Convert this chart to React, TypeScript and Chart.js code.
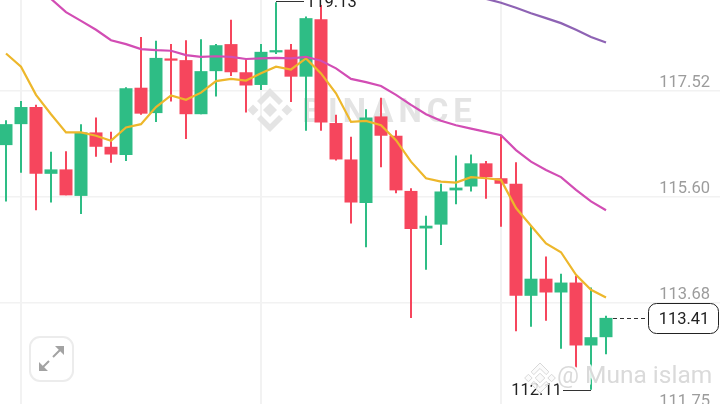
import React, { useEffect, useRef } from "react";
import { Chart, registerables } from "chart.js";

Chart.register(...registerables);

const opens = [116.54,116.92,117.23,116.02,116.10,115.62,116.77,116.51,116.36,117.58,117.12,118.11,118.08,117.10,117.88,118.37,117.86,117.63,118.22,118.27,117.78,118.82,116.94,116.28,115.49,117.06,116.71,115.71,115.03,115.10,115.72,115.79,116.21,115.94,115.84,113.81,114.12,113.87,114.05,112.91,113.06];
const highs = [116.99,117.34,117.27,116.42,116.43,116.92,117.04,116.78,117.59,118.50,118.43,118.37,118.44,118.46,118.37,118.81,118.10,118.37,119.13,118.37,118.87,119.08,117.09,116.69,117.19,117.40,116.81,115.76,115.26,115.84,116.35,116.37,116.25,116.72,116.23,115.09,114.52,114.21,114.17,113.96,113.45];
const lows = [115.52,116.04,115.36,115.50,115.63,115.29,116.33,116.22,116.25,117.09,116.96,117.33,116.65,117.10,117.42,117.79,117.13,117.54,118.19,117.32,116.80,116.80,116.26,115.12,114.69,116.14,115.67,113.41,114.28,114.73,115.47,115.70,115.57,115.06,113.17,113.25,113.36,112.85,112.51,112.11,112.75];
const closes = [116.92,117.23,116.02,116.10,115.63,116.77,116.51,116.37,117.57,117.11,118.12,118.07,117.10,117.88,118.35,117.86,117.62,118.23,118.26,117.78,118.84,116.95,116.28,115.50,117.04,116.71,115.72,115.02,115.08,115.70,115.77,116.21,115.96,115.84,113.81,114.12,113.87,114.05,112.91,113.06,113.41];
const maYellow = [118.20,117.96,117.45,117.10,116.77,116.77,116.71,116.62,116.86,116.92,117.23,117.44,117.36,117.49,117.70,117.74,117.71,117.84,117.96,117.91,118.11,117.84,117.48,116.96,116.98,116.90,116.63,116.24,115.94,115.88,115.86,115.96,115.94,115.91,115.40,115.08,114.76,114.60,114.19,113.92,113.78];
const maPink = [null,null,119.50,119.19,118.95,118.79,118.63,118.44,118.37,118.28,118.26,118.25,118.17,118.14,118.15,118.14,118.10,118.11,118.12,118.11,118.14,118.07,117.93,117.74,117.68,117.61,117.45,117.27,117.10,116.98,116.90,116.84,116.78,116.72,116.45,116.24,116.09,115.96,115.73,115.52,115.36];
const maPurple = [null,null,null,null,null,null,null,null,null,null,null,null,null,null,null,null,null,null,null,null,null,null,null,null,null,null,null,null,null,null,null,null,119.19,119.12,119.03,118.93,118.84,118.75,118.63,118.50,118.40];
const priceTicks = [117.52, 115.60, 113.68, 111.75];
const timeTicks = [1, 17, 33];

const UP = "#2EBD85";
const DOWN = "#F6465D";
const isUp = (i: number) => closes[i] >= opens[i];

function diamond(ctx: CanvasRenderingContext2D, cx: number, cy: number, r: number, stroke: boolean) {
  ctx.beginPath();
  ctx.moveTo(cx, cy - r);
  ctx.lineTo(cx + r, cy);
  ctx.lineTo(cx, cy + r);
  ctx.lineTo(cx - r, cy);
  ctx.closePath();
  ctx.fill();
  if (stroke) ctx.stroke();
}

function binanceLogo(ctx: CanvasRenderingContext2D, cx: number, cy: number, s: number, stroke = false) {
  const u = s / 22;
  diamond(ctx, cx, cy, 7 * u, stroke);
  diamond(ctx, cx - 17 * u, cy, 5.5 * u, stroke);
  diamond(ctx, cx + 17 * u, cy, 5.5 * u, stroke);
  for (const sign of [-1, 1]) {
    ctx.beginPath();
    ctx.moveTo(cx, cy + sign * 22 * u);
    ctx.lineTo(cx + 13 * u, cy + sign * 9 * u);
    ctx.lineTo(cx + 9 * u, cy + sign * 5 * u);
    ctx.lineTo(cx, cy + sign * 14 * u);
    ctx.lineTo(cx - 9 * u, cy + sign * 5 * u);
    ctx.lineTo(cx - 13 * u, cy + sign * 9 * u);
    ctx.closePath();
    ctx.fill();
    if (stroke) ctx.stroke();
  }
}

const backWatermark = {
  id: "backWatermark",
  beforeDatasetsDraw(chart: any) {
    const ctx = chart.ctx;
    ctx.save();
    ctx.fillStyle = "#e4e4e4";
    binanceLogo(ctx, 270, 110, 22);
    ctx.font = "700 33px Roboto";
    ctx.textAlign = "left";
    ctx.textBaseline = "alphabetic";
    (ctx as any).letterSpacing = "5px";
    ctx.fillText("BINANCE", 302, 122);
    ctx.restore();
  },
};

const overlays = {
  id: "overlays",
  afterDraw(chart: any) {
    const ctx = chart.ctx as CanvasRenderingContext2D;
    const xs = chart.scales.x;
    const ys = chart.scales.y;
    ctx.save();

    const hi = Math.max(...highs);
    const lo = Math.min(...lows);
    const hiX = xs.getPixelForValue(highs.indexOf(hi));
    const loX = xs.getPixelForValue(lows.indexOf(lo));
    const hiY = ys.getPixelForValue(hi);
    const loY = ys.getPixelForValue(lo);
    ctx.strokeStyle = "#333";
    ctx.lineWidth = 1;
    ctx.fillStyle = "#222";
    ctx.font = "16.5px Roboto";
    ctx.textBaseline = "middle";
    ctx.beginPath();
    ctx.moveTo(hiX, Math.round(hiY) - 0.5);
    ctx.lineTo(hiX + 28, Math.round(hiY) - 0.5);
    ctx.moveTo(loX, Math.round(loY) + 0.5);
    ctx.lineTo(loX - 28, Math.round(loY) + 0.5);
    ctx.stroke();
    ctx.textAlign = "left";
    ctx.fillText(hi.toFixed(2), hiX + 30, hiY + 1);
    ctx.textAlign = "right";
    ctx.fillText(lo.toFixed(2), loX - 29, loY + 1);

    const last = closes[closes.length - 1];
    const lastY = Math.round(ys.getPixelForValue(last)) + 0.5;
    const lastX = xs.getPixelForValue(closes.length - 1);
    ctx.setLineDash([4, 3]);
    ctx.beginPath();
    ctx.moveTo(lastX + 7, lastY);
    ctx.lineTo(648, lastY);
    ctx.stroke();
    ctx.setLineDash([]);
    ctx.beginPath();
    ctx.roundRect(648.5, lastY - 15, 70, 30, 8);
    ctx.fillStyle = "#fff";
    ctx.fill();
    ctx.strokeStyle = "#222";
    ctx.stroke();
    ctx.fillStyle = "#222";
    ctx.textAlign = "center";
    ctx.fillText(last.toFixed(2), 684, lastY + 1);

    ctx.strokeStyle = "#ececec";
    ctx.lineWidth = 2;
    ctx.beginPath();
    ctx.roundRect(30, 337, 43, 44, 10);
    ctx.fillStyle = "#fff";
    ctx.fill();
    ctx.stroke();
    ctx.strokeStyle = "#a3a3a3";
    ctx.fillStyle = "#a3a3a3";
    ctx.beginPath();
    ctx.moveTo(42, 368);
    ctx.lineTo(49, 361);
    ctx.moveTo(53, 357);
    ctx.lineTo(60, 350);
    ctx.stroke();
    ctx.beginPath();
    ctx.moveTo(39, 371);
    ctx.lineTo(39, 362);
    ctx.lineTo(48, 371);
    ctx.closePath();
    ctx.moveTo(64, 346);
    ctx.lineTo(64, 355);
    ctx.lineTo(55, 346);
    ctx.closePath();
    ctx.fill();

    ctx.fillStyle = "rgba(250,250,250,0.85)";
    ctx.strokeStyle = "#d8d8d8";
    ctx.lineWidth = 1;
    binanceLogo(ctx, 540, 378, 15, true);
    ctx.font = "24.5px Roboto";
    ctx.textAlign = "left";
    ctx.lineWidth = 3;
    ctx.strokeStyle = "rgba(255,255,255,0.85)";
    ctx.strokeText("@", 557, 377);
    ctx.strokeText("Muna islam", 585, 377);
    ctx.fillStyle = "#dadada";
    ctx.fillText("@", 557, 377);
    ctx.fillText("Muna islam", 585, 377);
    ctx.restore();
  },
};

export default function App() {
  const ref = useRef<HTMLCanvasElement | null>(null);
  useEffect(() => {
    if (!ref.current) return;
    const idx = opens.map((_, i) => i);
    const chart = new Chart(ref.current, {
      type: "bar",
      data: {
        datasets: [
          {
            type: "line",
            data: idx.map((i) => ({ x: i, y: maPurple[i] })),
            borderColor: "#8E63B4",
            borderWidth: 2.2,
            pointRadius: 0,
            order: 0,
          },
          {
            type: "line",
            data: idx.map((i) => ({ x: i, y: maPink[i] })),
            borderColor: "#D24DB4",
            borderWidth: 2.2,
            pointRadius: 0,
            order: 0,
          },
          {
            type: "line",
            data: idx.map((i) => ({ x: i, y: maYellow[i] })),
            borderColor: "#EDB72B",
            borderWidth: 2.2,
            pointRadius: 0,
            order: 0,
          },
          {
            type: "bar",
            data: idx.map((i) => ({ x: i, y: [opens[i], closes[i]] })),
            backgroundColor: idx.map((i) => (isUp(i) ? UP : DOWN)),
            barThickness: 13,
            grouped: false,
            borderWidth: 0,
            inflateAmount: 0,
            minBarLength: 2,
            order: 1,
          },
          {
            type: "bar",
            data: idx.map((i) => ({ x: i, y: [lows[i], highs[i]] })),
            backgroundColor: idx.map((i) => (isUp(i) ? UP : DOWN)),
            barThickness: 2,
            grouped: false,
            borderWidth: 0,
            inflateAmount: 0,
            order: 2,
          },
        ] as any,
      },
      options: {
        responsive: false,
        animation: false,
        layout: { padding: 0 },
        plugins: { legend: { display: false }, tooltip: { enabled: false } },
        scales: {
          x: {
            type: "linear",
            min: -0.4,
            max: 47.6,
            offset: false,
            afterBuildTicks: (s: any) => {
              s.ticks = timeTicks.map((value) => ({ value }));
            },
            ticks: { display: false },
            border: { display: false },
            grid: { color: "#f2f2f2", lineWidth: 2, drawTicks: false, offset: false },
          },
          y: {
            type: "linear",
            position: "right",
            min: 111.56,
            max: 119.169,
            afterBuildTicks: (s: any) => {
              s.ticks = priceTicks.map((value) => ({ value }));
            },
            afterFit: (s: any) => {
              s.paddingTop = 0;
              s.paddingBottom = 0;
              s.width = 0;
            },
            ticks: {
              mirror: true,
              padding: -10,
              labelOffset: -8,
              color: "#9c9c9c",
              font: { family: "Roboto", size: 16.5 },
              autoSkip: false,
              callback: (v: any) => Number(v).toFixed(2),
            },
            border: { display: false },
            grid: { color: "#f2f2f2", lineWidth: 1.5, drawTicks: false },
          },
        },
      } as any,
      plugins: [backWatermark, overlays],
    });
    return () => chart.destroy();
  }, []);
  return (
    <div style={{ position: "absolute", left: 0, top: 0, width: 720, height: 404, overflow: "hidden", background: "#fff" }}>
      <canvas ref={ref} width={720} height={420} style={{ display: "block" }} />
    </div>
  );
}
